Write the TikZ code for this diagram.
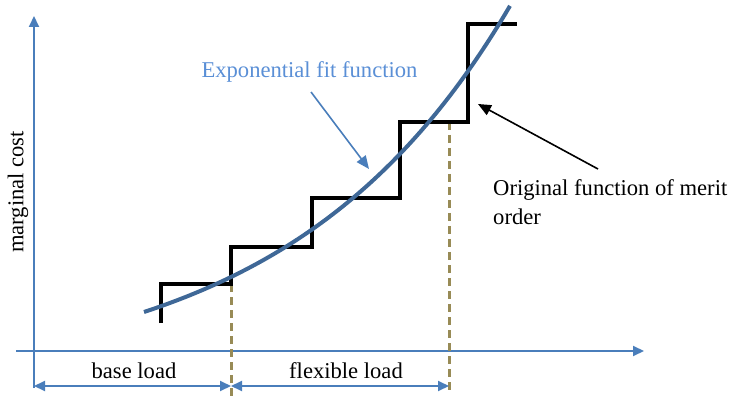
\documentclass[tikz,border=0pt]{standalone}
\usepackage{fontspec}
\setmainfont{Liberation Serif}
\usetikzlibrary{arrows.meta}
\definecolor{axisblue}{HTML}{4A7EBB}
\definecolor{fitblue}{HTML}{3F6897}
\definecolor{labelblue}{HTML}{5A8FD6}
\definecolor{olive}{HTML}{988B56}
\tikzset{
  axisline/.style={axisblue, line width=2pt, -{Triangle[length=11pt,width=10pt]}},
  dimline/.style={axisblue, line width=2pt, {Triangle[length=11pt,width=10pt]}-{Triangle[length=11pt,width=10pt]}},
  guide/.style={olive, line width=3pt, dash pattern=on 8pt off 5pt},
  stairs/.style={black, line width=3.6pt, line join=miter},
  fit/.style={fitblue, line width=4pt},
  lbl/.style={font=\fontsize{22.6}{29}\selectfont, inner sep=0pt},
  pointer/.style={line width=1.6pt, -{Triangle[length=13pt,width=11pt]}},
}
\begin{document}
\begin{tikzpicture}[x=1pt, y=-1pt]
\useasboundingbox (0,0) rectangle (729,401);
% axes
\coordinate (yb) at (34,388);
\coordinate (yt) at (34,16);
\coordinate (xl) at (16,351);
\coordinate (xr) at (644,351);
\draw[axisline] (yb) -- (yt);
\draw[axisline] (xl) -- (xr);
% load split guides
\coordinate (g1t) at (231,284);
\coordinate (g1b) at (231,398);
\coordinate (g2t) at (449,122);
\coordinate (g2b) at (449,392);
\draw[guide] (g1t) -- (g1b);
\draw[guide] (g2t) -- (g2b);
% dimension arrows
\coordinate (d0) at (34,386);
\coordinate (d1) at (231,386);
\coordinate (d2) at (449,386);
\draw[dimline] (d0) -- (d1);
\draw[dimline] (d1) -- (d2);
\node[lbl, anchor=base] (base) at (134,378) {base load};
\node[lbl, anchor=base] (flex) at (346,378) {flexible load};
% merit order staircase
\draw[stairs] (161,323) -- (161,284) -- (231,284) -- (231,247) -- (312,247)
  -- (312,198) -- (400,198) -- (400,122) -- (468,122) -- (468,24) -- (517,24);
% exponential fit
\draw[fit] plot[domain=144:510, samples=80] (\x, {312 - 73*(exp(0.0045*(\x-144))-1)});
% labels and pointers
\node[lbl, labelblue, anchor=base] (expo) at (309.5,78) {Exponential fit function};
\coordinate (e0) at (311,92);
\coordinate (e1) at (369,169);
\draw[pointer, axisblue] (e0) -- (e1);
\node[lbl, anchor=base west, align=left] (orig) at (493,225) {Original function of merit\\order};
\coordinate (o0) at (598,169);
\coordinate (o1) at (478,104);
\draw[pointer, black] (o0) -- (o1);
\node[lbl, rotate=90, anchor=center] (ylab) at (18,192) {marginal cost};
\end{tikzpicture}
\end{document}
